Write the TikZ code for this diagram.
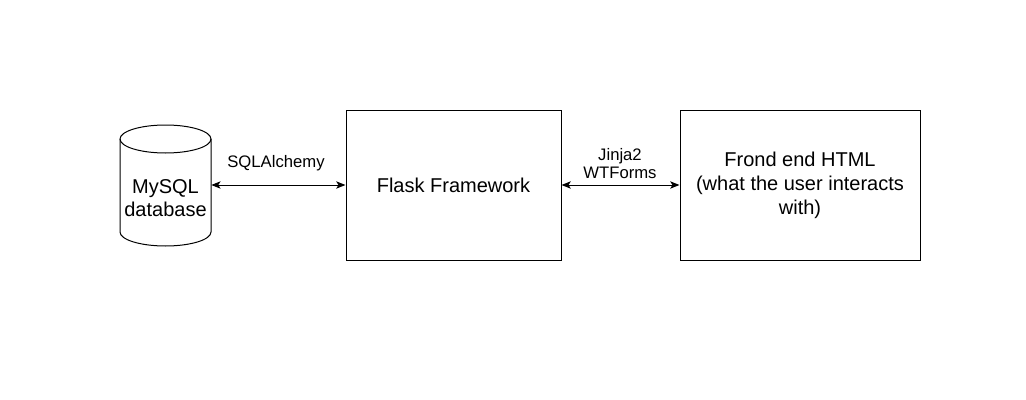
\documentclass[tikz,border=0pt]{standalone}
\usepackage{fontspec}
\setmainfont{Liberation Sans}
\usetikzlibrary{arrows.meta}
\begin{document}
\begin{tikzpicture}[x=0.75pt,y=-0.75pt,
  box/.style={draw, line width=0.75pt, minimum height=112.5pt, inner sep=0pt, align=center, font=\fontsize{15}{18}\selectfont},
  lbl/.style={align=center, inner sep=0pt, font=\fontsize{12.5}{13.5}\selectfont},
  conn/.style={line width=0.75pt, {Stealth[length=7pt,width=5.5pt,inset=1.8pt]}-{Stealth[length=7pt,width=5.5pt,inset=1.8pt]}},
  cyl/.style={line width=0.75pt, fill=white}]
\useasboundingbox (0,0) rectangle (1026,400);
% database cylinder
\node[minimum width=68.25pt, minimum height=90.75pt, inner sep=0pt] (db) at (165.5,185) {};
\draw[cyl] (120,139) -- (120,232) arc[start angle=180, end angle=360, x radius=34.125pt, y radius=10.5pt] -- (211,139) arc[start angle=0, end angle=180, x radius=34.125pt, y radius=10.5pt] -- cycle;
\draw[line width=0.75pt] (120,139) arc[start angle=180, end angle=360, x radius=34.125pt, y radius=10.5pt];
\node[align=center, inner sep=0pt, font=\fontsize{15}{17.25}\selectfont] (dbtxt) at (165.5,198.5) {MySQL\\database};
% boxes
\node[box, minimum width=161.25pt] (flask) at (453.5,185) {Flask Framework};
\node[box, minimum width=180pt] (fe) at (800,185) {Frond end HTML\\(what the user interacts\\with)};
% connectors
\draw[conn] (db.east) -- (flask.west);
\draw[conn] (flask.east) -- (fe.west);
% labels
\node[lbl] (sqla) at (276,163) {SQLAlchemy};
\node[lbl] (jin) at (620,164) {Jinja2\\WTForms};
\end{tikzpicture}
\end{document}
